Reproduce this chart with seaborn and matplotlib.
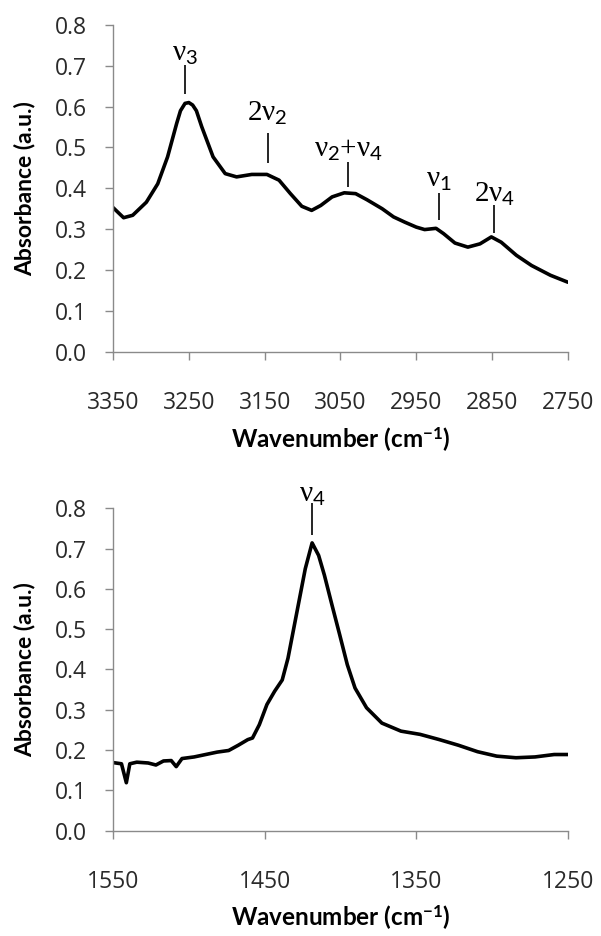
import matplotlib
matplotlib.use("Agg")
import matplotlib.pyplot as plt
import seaborn as sns
import pandas as pd

# ---------------- data ----------------
top_wn = [3350, 3336, 3324, 3306, 3291, 3278, 3266, 3261, 3255, 3250, 3245, 3240, 3233,
          3218, 3202, 3187, 3167, 3147, 3131, 3116, 3101, 3088, 3076, 3061, 3045,
          3030, 3015, 2995, 2980, 2965, 2950, 2939, 2924, 2914, 2899, 2882, 2866,
          2851, 2838, 2818, 2798, 2773, 2750]
top_abs = [0.353, 0.328, 0.334, 0.366, 0.411, 0.477, 0.559, 0.590, 0.608, 0.610, 0.604, 0.590, 0.551,
           0.477, 0.436, 0.428, 0.434, 0.434, 0.420, 0.387, 0.356, 0.346, 0.358, 0.379, 0.389,
           0.387, 0.372, 0.350, 0.330, 0.317, 0.305, 0.299, 0.302, 0.289, 0.266, 0.256, 0.264,
           0.281, 0.268, 0.236, 0.211, 0.187, 0.170]

bot_wn = [1550, 1544.4, 1541.2, 1538.9, 1534.3, 1526.8, 1521.7, 1516.7, 1511.6, 1508.3,
          1504.5, 1496.5, 1488.9, 1481.3, 1473.7, 1467.4, 1461.1, 1458, 1453.5, 1448.5,
          1443.4, 1438.4, 1434.6, 1430.8, 1427, 1423.2, 1418.7, 1414.4, 1410.6, 1405.6,
          1400.5, 1395.5, 1390.4, 1382.8, 1372.7, 1360.1, 1347.5, 1334.8, 1322.2, 1309.6,
          1297, 1284.3, 1271.7, 1259.1, 1250]
bot_abs = [0.169, 0.166, 0.119, 0.166, 0.170, 0.168, 0.163, 0.173, 0.174, 0.159,
           0.179, 0.183, 0.189, 0.195, 0.199, 0.212, 0.226, 0.230, 0.263, 0.313,
           0.346, 0.374, 0.428, 0.502, 0.576, 0.650, 0.714, 0.683, 0.634, 0.560,
           0.486, 0.412, 0.354, 0.305, 0.267, 0.247, 0.239, 0.226, 0.212, 0.196,
           0.185, 0.181, 0.183, 0.189, 0.189]

top_xticks = [3350, 3250, 3150, 3050, 2950, 2850, 2750]
bot_xticks = [1550, 1450, 1350, 1250]
y_ticks = [0.0, 0.1, 0.2, 0.3, 0.4, 0.5, 0.6, 0.7, 0.8]

top_labels = [r'$\nu_3$', r'2$\nu_2$', r'$\nu_2$+$\nu_4$', r'$\nu_1$', r'2$\nu_4$']
top_label_x = [3255, 3146, 3040, 2920, 2847]
top_label_y = [0.712, 0.565, 0.476, 0.404, 0.366]
top_line_lo = [0.632, 0.462, 0.403, 0.322, 0.290]
top_line_hi = [0.701, 0.535, 0.465, 0.389, 0.359]

bot_labels = [r'$\nu_4$']
bot_label_x = [1418.5]
bot_label_y = [0.815]
bot_line_lo = [0.734]
bot_line_hi = [0.813]

# ---------------- style ----------------
sns.set_style("white")
plt.rcParams['font.family'] = ['Open Sans', 'DejaVu Sans']
plt.rcParams['mathtext.fontset'] = 'custom'
plt.rcParams['mathtext.rm'] = 'Lato'
plt.rcParams['mathtext.it'] = 'Liberation Serif'
plt.rcParams['mathtext.bf'] = 'Lato:bold'

SPINE = '#8a8a8a'
TXT = '#2a2a2a'

fig = plt.figure(figsize=(6.01, 9.36), dpi=100)
ax1 = fig.add_axes([0.188, 0.6243, 0.757, 0.349])
ax2 = fig.add_axes([0.188, 0.1125, 0.757, 0.3445])

df1 = pd.DataFrame({'wn': top_wn, 'abs': top_abs})
df2 = pd.DataFrame({'wn': bot_wn, 'abs': bot_abs})

sns.lineplot(data=df1, x='wn', y='abs', ax=ax1, color='black', lw=2.6, sort=False,
             solid_joinstyle='round', solid_capstyle='round')
sns.lineplot(data=df2, x='wn', y='abs', ax=ax2, color='black', lw=2.6, sort=False,
             solid_joinstyle='round', solid_capstyle='round')

def style(ax, xticks, xlim, xlab_y):
    ax.set_xlim(xlim)
    ax.set_ylim(0, 0.8)
    ax.set_xticks(xticks)
    ax.set_xticklabels([str(t) for t in xticks])
    ax.set_yticks(y_ticks)
    ax.set_yticklabels([f"{t:.1f}" for t in y_ticks])
    for s in ['top', 'right']:
        ax.spines[s].set_visible(False)
    for s in ['left', 'bottom']:
        ax.spines[s].set_color(SPINE)
        ax.spines[s].set_linewidth(1.0)
    ax.tick_params(axis='x', direction='out', length=6, width=1.0, color=SPINE,
                   labelsize=16.5, labelcolor=TXT, pad=22, bottom=True)
    ax.tick_params(axis='y', direction='out', length=5.5, width=1.0, color=SPINE,
                   labelsize=16.5, labelcolor=TXT, pad=13, left=True)
    ax.set_ylabel('Absorbance (a.u.)', fontsize=16.5, fontweight='bold', color='black',
                  family='Lato')
    ax.set_xlabel(r'Wavenumber (cm$^{\mathbf{-1}}$)', fontsize=17.5, fontweight='bold',
                  color='black', family='Lato')
    ax.yaxis.set_label_coords(-0.17, 0.5)
    ax.xaxis.set_label_coords(0.5, xlab_y)

style(ax1, top_xticks, (3350, 2750), -0.228)
style(ax2, bot_xticks, (1550, 1250), -0.228)

def annotate(ax, labels, lx, ly, lo, hi):
    for t, x, y, a, b in zip(labels, lx, ly, lo, hi):
        ax.vlines(x, a, b, color='black', lw=1.2, clip_on=False)
        ax.text(x, y, t, ha='center', va='baseline', fontsize=21,
                family='Liberation Serif', color='black', clip_on=False)

annotate(ax1, top_labels, top_label_x, top_label_y, top_line_lo, top_line_hi)
annotate(ax2, bot_labels, bot_label_x, bot_label_y, bot_line_lo, bot_line_hi)

fig.savefig('out.png', dpi=100, facecolor='white')
